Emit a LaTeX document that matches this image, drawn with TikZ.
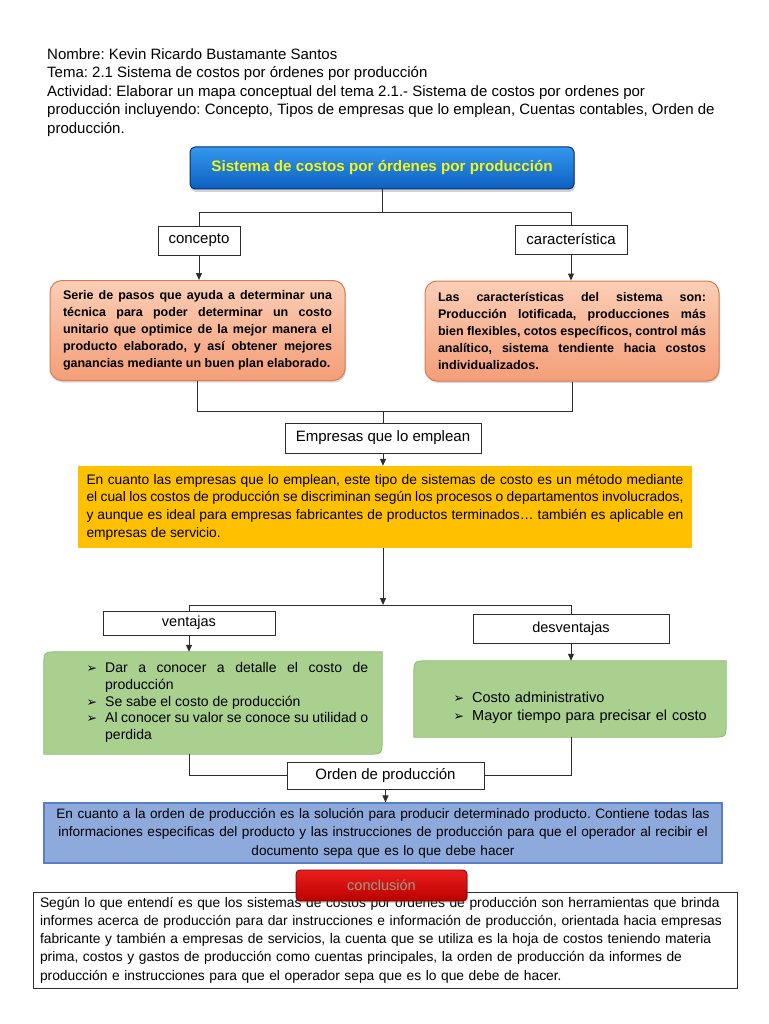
\documentclass[tikz,border=0pt]{standalone}
\usepackage{fontspec}
\setmainfont{Liberation Sans}
\newfontfamily\dejavu{DejaVu Sans}
\usetikzlibrary{arrows.meta,shadows,backgrounds}
\frenchspacing
\definecolor{titletop}{RGB}{52,152,238}
\definecolor{titlebot}{RGB}{12,96,192}
\definecolor{titleline}{RGB}{10,45,110}
\definecolor{titletext}{RGB}{245,245,20}
\definecolor{orgtop}{RGB}{251,206,182}
\definecolor{orgbot}{RGB}{244,158,120}
\definecolor{orgline}{RGB}{215,125,85}
\definecolor{yelfill}{RGB}{255,192,0}
\definecolor{grnfill}{RGB}{169,208,142}
\definecolor{grnline}{RGB}{140,188,110}
\definecolor{blufill}{RGB}{142,169,219}
\definecolor{bluline}{RGB}{90,125,195}
\definecolor{redtop}{RGB}{235,30,30}
\definecolor{redbot}{RGB}{185,0,0}
\definecolor{redline}{RGB}{120,0,0}
\definecolor{redtext}{RGB}{150,160,140}
\definecolor{linecol}{RGB}{45,45,45}
\newcommand{\bul}{\leavevmode\llap{{\dejavu\fontsize{12.5}{12}\selectfont ➢}\hspace{8pt}}}
\begin{document}
\begin{tikzpicture}[x=1pt,y=-1pt,
  hdr/.style={anchor=base west, inner sep=0pt, font=\fontsize{15}{18}\selectfont},
  lbl/.style={draw=linecol, line width=0.8pt, fill=white, inner sep=0pt, font=\fontsize{15}{18}\selectfont},
  conn/.style={draw=linecol, line width=1pt},
  arr/.style={conn, -{Triangle[length=7pt,width=6pt]}},
  orgbox/.style={draw=orgline, line width=1pt, rounded corners=12pt, top color=orgtop, bottom color=orgbot,
     drop shadow={opacity=0.3, shadow xshift=1pt, shadow yshift=-2pt},
     inner xsep=13pt, align=justify, font=\bfseries\fontsize{12.5}{17}\selectfont},
  leaf/.style={fill=grnfill, draw=grnline, line width=0.8pt}
]
\useasboundingbox (0,0) rectangle (768,1024);

% header
\node[hdr] (h1) at (47,59.5) {Nombre: Kevin Ricardo Bustamante Santos};
\node[hdr] (h2) at (47,78) {Tema: 2.1 Sistema de costos por órdenes por producción};
\node[hdr] (h3) at (47,96.5) {Actividad: Elaborar un mapa conceptual del tema 2.1.- Sistema de costos por ordenes por};
\node[hdr] (h4) at (47,115) {producción incluyendo: Concepto, Tipos de empresas que lo emplean, Cuentas contables, Orden de};
\node[hdr] (h5) at (47,133.5) {producción.};

% title
\node[draw=titleline, line width=1pt, rounded corners=5pt, top color=titletop, bottom color=titlebot,
  drop shadow={opacity=0.35, shadow xshift=1pt, shadow yshift=-3pt},
  minimum width=384pt, minimum height=42pt, text=titletext, font=\bfseries\fontsize{15.2}{18}\selectfont]
  (title) at (382,168) {Sistema de costos por órdenes por producción};

\node[lbl, minimum width=82pt, minimum height=29pt] (concepto) at (199,240.5) {concepto};
\node[lbl, minimum width=112pt, minimum height=29pt] (caract) at (571,239.5) {característica};

\node[orgbox, text width=269pt, minimum height=100pt] (oL) at (197.5,330.5)
 {Serie de pasos que ayuda a determinar una\linebreak
  técnica para poder determinar un costo\linebreak
  unitario que optimice de la mejor manera el\linebreak
  producto elaborado, y así obtener mejores\linebreak
  ganancias mediante un buen plan elaborado.};
\node[orgbox, text width=268pt, minimum height=100pt] (oR) at (572,331)
 {Las características del sistema son:\linebreak
  Producción lotificada, producciones más\linebreak
  bien flexibles, cotos específicos, control más\linebreak
  analítico, sistema tendiente hacia costos\linebreak
  individualizados.};

\node[lbl, minimum width=196pt, minimum height=30pt] (emp) at (383,438) {Empresas que lo emplean};

\node[fill=yelfill, minimum width=614pt, minimum height=82pt, text width=597pt, inner xsep=8.5pt,
  align=justify, font=\fontsize{13.8}{17.7}\selectfont] (yel) at (385,507)
 {En cuanto las empresas que lo emplean, este tipo de sistemas de costo es un método mediante\linebreak
  el cual los costos de producción se discriminan según los procesos o departamentos involucrados,\linebreak
  y aunque es ideal para empresas fabricantes de productos terminados… también es aplicable en\linebreak
  empresas de servicio.};

\node[lbl, minimum width=172pt, minimum height=24pt, font=\fontsize{14.5}{17}\selectfont] (vent) at (189,623) {ventajas};
\node[lbl, minimum width=196pt, minimum height=29pt, font=\fontsize{14.5}{17}\selectfont] (desv) at (571,628.5) {desventajas};

\node[minimum width=338pt, minimum height=102pt, inner sep=0pt] (gL) at (213,703) {};
\node[minimum width=312pt, minimum height=76pt, inner sep=0pt] (gR) at (570,699) {};
\begin{scope}[on background layer]
\fill[white] (0,0) rectangle (768,1024);
\path[leaf] (gL.south west) -- ([yshift=-15pt]gL.north west) .. controls (gL.north west) .. ([xshift=15pt]gL.north west)
  -- (gL.north east) -- ([yshift=15pt]gL.south east) .. controls (gL.south east) .. ([xshift=-15pt]gL.south east) -- cycle;
\path[leaf] (gR.south west) -- ([yshift=-15pt]gR.north west) .. controls (gR.north west) .. ([xshift=15pt]gR.north west)
  -- (gR.north east) -- ([yshift=15pt]gR.south east) .. controls (gR.south east) .. ([xshift=-15pt]gR.south east) -- cycle;
\end{scope}
\node[anchor=west, inner sep=0pt, text width=263pt, align=justify, font=\fontsize{14}{16.8}\selectfont] (gLt) at (105,702.5)
 {\bul Dar a conocer a detalle el costo de\linebreak producción\\
  \bul Se sabe el costo de producción\\
  \bul Al conocer su valor se conoce su utilidad o\linebreak perdida};
\node[anchor=west, inner sep=0pt, text width=250pt, align=left, font=\fontsize{14.5}{18.5}\selectfont] (gRt) at (472,707.5)
 {\bul Costo administrativo\\
  \bul Mayor tiempo para precisar el costo};

\node[lbl, minimum width=197pt, minimum height=27pt] (ord) at (385.5,775.5) {Orden de producción};

\node[fill=blufill, draw=bluline, line width=1.2pt, minimum width=678pt, minimum height=60pt, text width=665pt,
  align=center, font=\fontsize{13.6}{18.5}\selectfont] (blue) at (383,833)
 {En cuanto a la orden de producción es la solución para producir determinado producto. Contiene todas las\\
  informaciones especificas del producto y las instrucciones de producción para que el operador al recibir el\\
  documento sepa que es lo que debe hacer};

\node[draw=linecol, line width=1pt, fill=white, minimum width=704pt, minimum height=96pt, text width=690pt,
  inner xsep=7pt, align=left, font=\fontsize{13.8}{18.2}\selectfont] (concl) at (385,940)
 {Según lo que entendí es que los sistemas de costos por ordenes de producción son herramientas que brinda\\
  informes acerca de producción para dar instrucciones e información de producción, orientada hacia empresas\\
  fabricante y también a empresas de servicios, la cuenta que se utiliza es la hoja de costos teniendo materia\\
  prima, costos y gastos de producción como cuentas principales, la orden de producción da informes de\\
  producción e instrucciones para que el operador sepa que es lo que debe de hacer.};

\node[draw=redline, line width=0.8pt, rounded corners=4pt, top color=redtop, bottom color=redbot,
  drop shadow={opacity=0.35, shadow xshift=1pt, shadow yshift=-2pt},
  minimum width=171pt, minimum height=31pt, text=redtext, font=\fontsize{14.5}{17}\selectfont]
  (red) at (381.5,885.5) {conclusión};

% connectors
\coordinate (j1) at (382,213);
\coordinate (j2) at (383,411);
\coordinate (j3) at (383,605);
\draw[conn] (title.south) -- (j1);
\draw[conn] (j1) -| (concepto.north);
\draw[conn] (j1) -| (caract.north);
\draw[arr] (concepto.south) -- (concepto.south |- oL.north);
\draw[arr] (caract.south) -- (caract.south |- oR.north);
\draw[conn] (oL.south) |- (j2);
\draw[conn] (oR.south) |- (j2);
\draw[conn] (j2) -- (emp.north);
\draw[arr] (emp.south) -- (emp.south |- yel.north);
\draw[arr] (j3 |- yel.south) -- (j3);
\draw[conn] (vent.north) |- (j3);
\draw[conn] (desv.north) |- (j3);
\draw[arr] (vent.south) -- (vent.south |- gL.north);
\draw[arr] (desv.south) -- (desv.south |- gR.north);
\draw[conn] (vent.south |- gL.south) |- (ord.west);
\draw[conn] (desv.south |- gR.south) |- (ord.east);
\draw[arr] (ord.south) -- (ord.south |- blue.north);
\end{tikzpicture}
\end{document}
